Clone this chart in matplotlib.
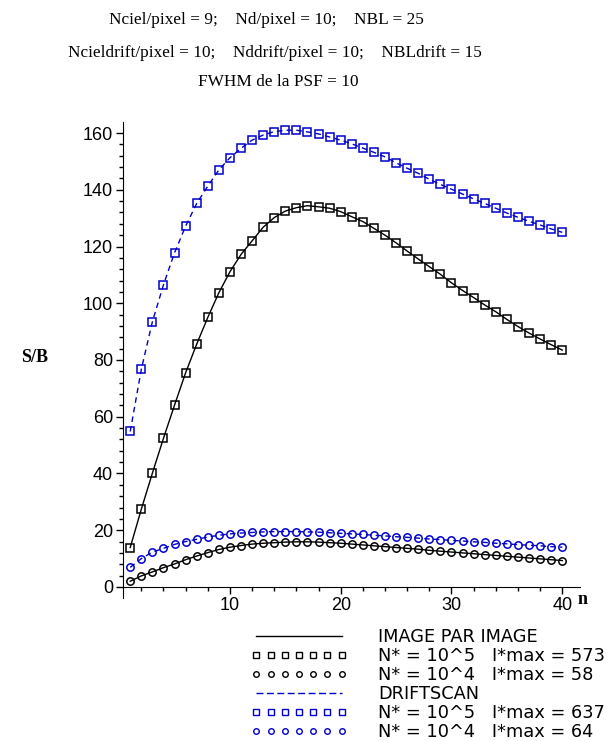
import numpy as np
import matplotlib
matplotlib.use("Agg")
import matplotlib.pyplot as plt
from matplotlib.lines import Line2D
from matplotlib.ticker import MultipleLocator

# Data (S/B versus number of images n)
n = np.arange(1, 41)

img_1e5 = [13.9, 27.4, 40.1, 52.4, 64.1, 75.5, 85.6, 95.0, 103.7, 111.1,
           117.2, 122.0, 126.8, 130.2, 132.5, 133.7, 134.4, 134.0, 133.5, 132.3,
           130.5, 128.8, 126.4, 124.0, 121.3, 118.4, 115.6, 112.9, 110.2, 107.2,
           104.5, 102.0, 99.4, 97.0, 94.3, 91.8, 89.5, 87.4, 85.4, 83.5]
img_1e4 = [2.0, 3.9, 5.3, 6.8, 8.1, 9.6, 10.9, 12.1, 13.2, 14.0,
           14.6, 15.1, 15.4, 15.6, 15.8, 15.9, 15.9, 15.8, 15.6, 15.4,
           15.1, 14.8, 14.5, 14.2, 13.9, 13.6, 13.3, 12.9, 12.6, 12.3,
           12.0, 11.7, 11.4, 11.1, 10.8, 10.5, 10.2, 9.9, 9.6, 9.3]
drift_1e5 = [54.8, 76.7, 93.5, 106.5, 117.8, 127.2, 135.2, 141.3, 147.0, 151.3,
             154.6, 157.5, 159.3, 160.5, 161.0, 161.0, 160.4, 159.7, 158.6, 157.5,
             156.2, 154.7, 153.2, 151.6, 149.5, 147.6, 145.8, 143.7, 141.9, 140.2,
             138.5, 136.8, 135.2, 133.5, 131.8, 130.3, 128.9, 127.6, 126.2, 125.0]
drift_1e4 = [6.9, 10.0, 12.3, 13.6, 15.0, 16.0, 16.8, 17.6, 18.2, 18.7,
             19.0, 19.2, 19.4, 19.5, 19.5, 19.5, 19.4, 19.3, 19.1, 18.9,
             18.7, 18.5, 18.2, 18.0, 17.7, 17.5, 17.2, 16.9, 16.7, 16.4,
             16.2, 15.9, 15.7, 15.4, 15.2, 14.9, 14.7, 14.5, 14.2, 14.0]

title_lines = [
    "Nciel/pixel = 9;    Nd/pixel = 10;    NBL = 25",
    "Ncieldrift/pixel = 10;    Nddrift/pixel = 10;    NBLdrift = 15",
    "FWHM de la PSF = 10",
]
legend_labels = [
    "IMAGE PAR IMAGE",
    "N* = 10^5   I*max = 573",
    "N* = 10^4   I*max = 58",
    "DRIFTSCAN",
    "N* = 10^5   I*max = 637",
    "N* = 10^4   I*max = 64",
]

BLUE = "#0000cc"
DASH = (0, (4, 3))
W, H = 607, 741

fig = plt.figure(figsize=(W / 100, H / 100), dpi=100)
ax = fig.add_axes([122.7 / W, (H - 598) / H, 457.3 / W, 476 / H])

mk = dict(markersize=5.3, markerfacecolor="none", markeredgewidth=1.1)
ax.plot(n, img_1e5, "-", color="black", lw=1, marker="s", markeredgecolor="black", **mk)
ax.plot(n, img_1e4, "-", color="black", lw=1, marker="o", markeredgecolor="black", **mk)
ax.plot(n, drift_1e5, color=BLUE, ls=DASH, lw=1, marker="s", markeredgecolor=BLUE, **mk)
ax.plot(n, drift_1e4, color=BLUE, ls=DASH, lw=1, marker="o", markeredgecolor=BLUE, **mk)

ax.set_xlim(0.32, 41.6)
ax.set_ylim(-3.9, 163.9)
ax.spines["top"].set_visible(False)
ax.spines["right"].set_visible(False)
ax.spines["bottom"].set_position(("data", 0))
ax.xaxis.set_major_locator(MultipleLocator(10))
ax.xaxis.set_minor_locator(MultipleLocator(2))
ax.yaxis.set_major_locator(MultipleLocator(20))
ax.yaxis.set_minor_locator(MultipleLocator(4))
ax.set_xticks([10, 20, 30, 40])
ax.tick_params(which="major", length=5, width=1, labelsize=13, pad=2)
ax.tick_params(which="minor", length=3, width=1)
for lab in ax.get_xticklabels() + ax.get_yticklabels():
    lab.set_fontfamily("Liberation Sans")

fig.text(583 / W, 1 - 600 / H, "n", fontsize=13, fontweight="bold",
         family="Liberation Serif", ha="center", va="center")
fig.text(35 / W, 1 - 357 / H, "S/B", fontsize=13, fontweight="bold",
         family="Liberation Serif", ha="center", va="center")

# title lines are not quite centred on the figure in the original
for txt, x, y in zip(title_lines, [266, 275, 278], [20, 53, 82]):
    fig.text(x / W, 1 - y / H, txt, fontsize=12.4, family="Liberation Serif",
             ha="center", va="center")

lk = dict(markersize=4, markerfacecolor="none", markeredgewidth=1.0)
handles = [
    Line2D([], [], color="black", lw=1),
    Line2D([], [], ls="none", marker="s", markeredgecolor="black", **lk),
    Line2D([], [], ls="none", marker="o", markeredgecolor="black", **lk),
    Line2D([], [], color=BLUE, ls=(0, (5, 2.5)), lw=1),
    Line2D([], [], ls="none", marker="s", markeredgecolor=BLUE, **lk),
    Line2D([], [], ls="none", marker="o", markeredgecolor=BLUE, **lk),
]
fig.legend(handles, legend_labels, loc="upper left",
           bbox_to_anchor=(251 / W, 1 - 628 / H), frameon=False,
           prop={"family": "DejaVu Sans", "size": 12.8},
           numpoints=7, handlelength=5.4, handletextpad=1.75,
           labelspacing=0.06, borderpad=0, borderaxespad=0)

fig.savefig("out.png", dpi=100)
